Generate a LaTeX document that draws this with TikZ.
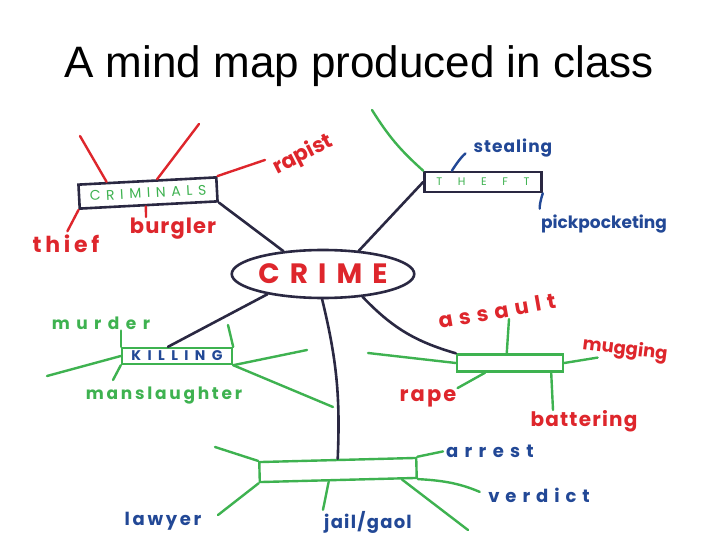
\documentclass[tikz,border=0pt]{standalone}
\usepackage{fontspec}
\setmainfont{Liberation Sans}
\newfontfamily\handfont{Poppins}
\usetikzlibrary{shapes.geometric,calc}

\definecolor{penred}{RGB}{222,38,44}
\definecolor{pengreen}{RGB}{62,178,80}
\definecolor{pennavy}{RGB}{42,40,66}
\definecolor{penblue}{RGB}{34,72,150}

\begin{document}
\begin{tikzpicture}[
  x=1pt, y=-1pt,
  every node/.style={inner sep=1pt},
  hub/.style={ellipse, draw=pennavy, line width=2.6pt, minimum width=177pt, minimum height=48pt, inner sep=0pt},
  topic/.style={draw=pennavy, line width=2.6pt, inner sep=0pt},
  bar/.style={draw=pengreen, line width=2.4pt, inner sep=0pt},
  hand/.style 2 args={font=\fontsize{#1}{#1}\handfont\bfseries\addfontfeature{LetterSpace=#2}},
  thin/.style 2 args={font=\fontsize{#1}{#1}\handfont\addfontfeature{LetterSpace=#2}},
  redword/.style={text=penred},
  greenword/.style={text=pengreen},
  blueword/.style={text=penblue},
  link/.style={draw=pennavy, line width=2.6pt, line cap=round},
  twig/.style={draw=pengreen, line width=2.4pt, line cap=round},
  redtwig/.style={draw=penred, line width=2.4pt, line cap=round},
  bluetwig/.style={draw=penblue, line width=2.4pt, line cap=round}]

  \fill[white] (0,0) rectangle (720,540);
  \useasboundingbox (0,0) rectangle (720,540);

  \node[font=\fontsize{44}{44}\selectfont, anchor=base] (title) at (359,78) {A mind map produced in class};

  \node[hub, redword, hand={28}{36}] (crime) at (323,274) {CRIME};

  \node[topic, rotate=3, minimum width=138pt, minimum height=24pt, greenword, thin={14}{40}] (crim) at (148,193) {CRIMINALS};
  \node[redword, hand={21}{0}, rotate=27] (rapist) at (303,155) {rapist};
  \node[redword, hand={22}{17}] (thief) at (66,244) {thief};
  \node[redword, hand={21}{5}] (burgler) at (173,229) {burgler};
  \coordinate (crimUL) at (80,136);
  \coordinate (crimUR) at (199,124);
  \coordinate (crimB) at (146,217);
  \draw[redtwig] ($(crim.north west)!.21!(crim.north east)$) -- (crimUL);
  \draw[redtwig] ($(crim.north west)!.57!(crim.north east)$) -- (crimUR);
  \draw[redtwig, shorten >=3pt] (crim.north east) -- (rapist.north west);
  \draw[redtwig, shorten >=3pt] (crim.south west) -- (thief.north);
  \draw[redtwig] ($(crim.south west)!.48!(crim.south east)$) -- (crimB);
  \draw[link] (crim.south east) -- (crime.150);

  \node[topic, minimum width=117pt, minimum height=20pt, greenword, thin={11}{142}] (theft) at (483,182) {THEFT};
  \node[blueword, hand={17}{6}] (stealing) at (513,148) {stealing};
  \node[blueword, hand={17}{0}] (pick) at (604,224) {pickpocketing};
  \coordinate (theftUL) at (372,110);
  \draw[twig] (theft.north west) to[bend left=8] (theftUL);
  \draw[bluetwig, shorten >=9pt] ($(theft.north west)!.24!(theft.north east)$) to[bend left=10] (stealing.west);
  \draw[bluetwig, shorten >=5pt] (theft.south east) to[bend right=10] (pick.north west);
  \draw[link] (theft.west) -- (crime.33);

  \node[bar, minimum width=110pt, minimum height=16pt, blueword, hand={14}{46}] (kill) at (177,356) {KILLING};
  \node[greenword, hand={17}{38}] (murder) at (101,323) {murder};
  \node[greenword, hand={17}{16}] (mans) at (164,396) {manslaughter};
  \coordinate (killL) at (47,376);
  \coordinate (killR) at (228,325);
  \coordinate (killB) at (113,380);
  \coordinate (killE) at (307,350);
  \coordinate (killSE) at (333,407);
  \draw[twig] (kill.north west) -- (kill.north west |- murder.south);
  \draw[twig] (kill.north east) -- (killR);
  \draw[twig] (kill.west) -- (killL);
  \draw[twig] (kill.south west) -- (killB);
  \draw[twig] (kill.south east) -- (killE);
  \draw[twig] (kill.south east) -- (killSE);
  \draw[link] ($(kill.north west)!.42!(kill.north east)$) -- (crime.200);

  \node[bar, minimum width=106pt, minimum height=17pt] (abuse) at (510,363) {};
  \node[redword, hand={21}{30}, rotate=10] (assault) at (497,311) {assault};
  \node[redword, hand={18}{0}, rotate=-7] (mugging) at (625,350) {mugging};
  \node[redword, hand={21}{10}] (rape) at (428,398) {rape};
  \node[redword, hand={20}{6}] (batter) at (584,421) {battering};
  \coordinate (abuseW) at (368,353);
  \coordinate (abuseN) at (509,319);
  \coordinate (abuseS) at (553,410);
  \draw[link] (crime.330) to[bend right=15] (abuse.north west);
  \draw[twig] (abuse.west) -- (abuseW);
  \draw[twig] ($(abuse.north west)!.47!(abuse.north east)$) -- (abuseN);
  \draw[twig] (abuse.east) -- ($(mugging.south west)!.2!(mugging.south east)$);
  \draw[twig] ($(abuse.south west)!.27!(abuse.south east)$) -- (rape.north east);
  \draw[twig] ($(abuse.south west)!.88!(abuse.south east)$) -- (abuseS);

  \node[bar, rotate=1.5, minimum width=157pt, minimum height=20pt] (court) at (338,470) {};
  \node[blueword, hand={18}{15}] (lawyer) at (163,521) {lawyer};
  \node[blueword, hand={18}{7}] (jail) at (368,522) {jail/gaol};
  \node[blueword, hand={18}{35}] (arrest) at (490,451) {arrest};
  \node[blueword, hand={18}{33}] (verdict) at (539,495) {verdict};
  \coordinate (courtNW) at (215,447);
  \coordinate (courtSW) at (218,515);
  \coordinate (courtSE) at (468,530);
  \draw[link] (crime.268) to[bend left=8] (court.north);
  \draw[twig] (court.north west) -- (courtNW);
  \draw[twig] (court.south west) -- (courtSW);
  \draw[twig] ($(court.south west)!.44!(court.south east)$) -- (jail.north west);
  \draw[twig, shorten >=2pt] (court.north east) -- (arrest.west);
  \draw[twig, shorten >=8pt] (court.south east) to[bend left=10] (verdict.west);
  \draw[twig] ($(court.south west)!.9!(court.south east)$) -- (courtSE);

\end{tikzpicture}
\end{document}
